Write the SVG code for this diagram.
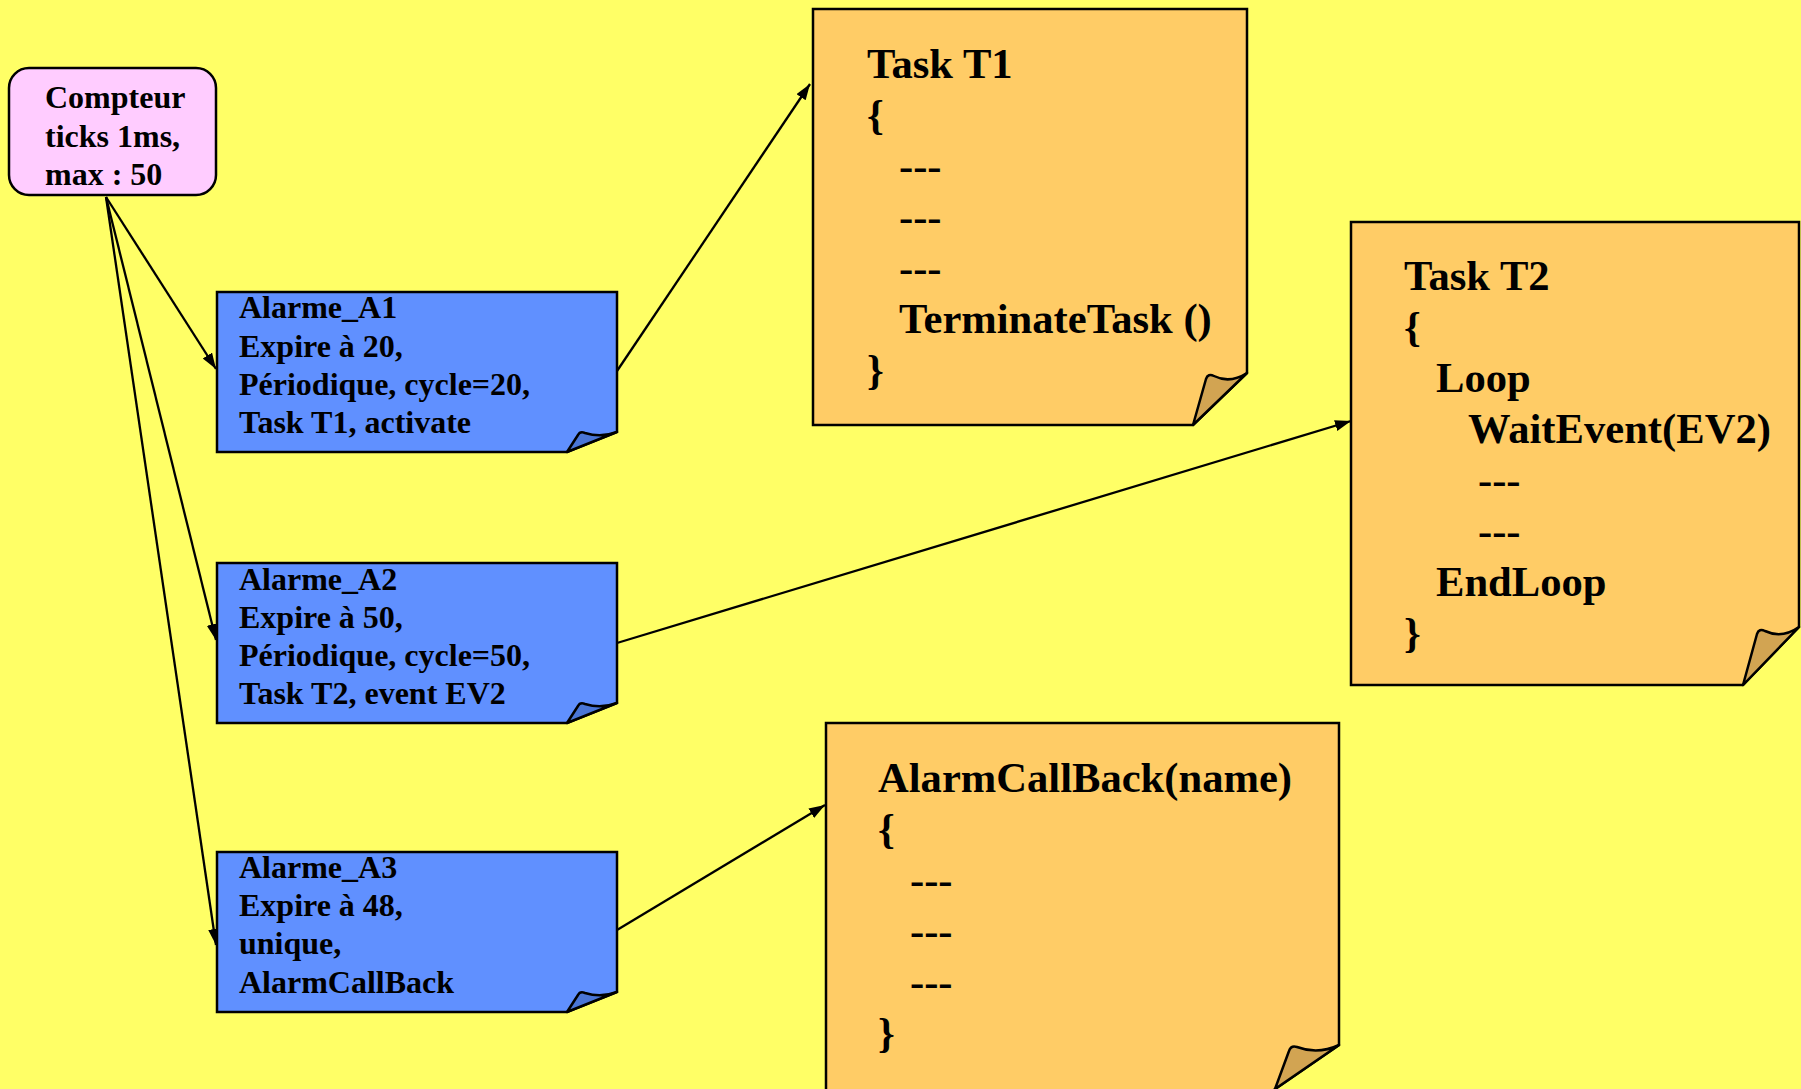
<svg xmlns="http://www.w3.org/2000/svg" width="1801" height="1089" viewBox="0 0 1801 1089">
  <defs>
    <marker id="arrow" markerWidth="17" markerHeight="12" refX="16" refY="5.5" orient="auto" markerUnits="userSpaceOnUse">
      <path d="M0,0 L16,5.5 L0,11 Z" fill="#000"/>
    </marker>
    <style>
      .txt { font-family: "Liberation Serif", "Times New Roman", serif; font-weight: bold; fill: #000; }
      .small { font-size: 32px; }
      .big { font-size: 42.6px; }
      .counter { fill: #FFCCFF; stroke: #000; stroke-width: 2.5; }
      .alarm { fill: #6090FF; stroke: #000; stroke-width: 2.5; stroke-linejoin: miter; }
      .alarm-fold { fill: #4A76D6; stroke: #000; stroke-width: 2.5; stroke-linejoin: round; }
      .note { fill: #FFCC66; stroke: #000; stroke-width: 2.5; stroke-linejoin: miter; }
      .note-fold { fill: #D2A452; stroke: #000; stroke-width: 2.5; stroke-linejoin: round; }
      .link { stroke: #000; stroke-width: 2.3; fill: none; marker-end: url(#arrow); }
    </style>
  </defs>

  <!-- background -->
  <rect x="0" y="0" width="1801" height="1089" fill="#FFFF66"/>

  <!-- connectors -->
  <g id="connectors">
    <line class="link" x1="106" y1="197" x2="216" y2="369"/>
    <line class="link" x1="106" y1="197" x2="216" y2="640"/>
    <line class="link" x1="106" y1="197" x2="216" y2="945"/>
    <line class="link" x1="617" y1="371" x2="810" y2="84"/>
    <line class="link" x1="617" y1="643" x2="1351" y2="421"/>
    <line class="link" x1="617" y1="930" x2="825" y2="805"/>
  </g>

  <!-- counter -->
  <g id="compteur">
    <rect class="counter" x="9" y="68" width="207" height="127" rx="20" ry="20"/>
    <text class="txt small" x="45" y="108">Compteur</text>
    <text class="txt small" x="45" y="147">ticks 1ms,</text>
    <text class="txt small" x="45" y="185">max : 50</text>
  </g>

  <!-- alarm A1 -->
  <g id="alarme_a1">
    <polygon class="alarm" points="217,292 617,292 617,432 567,452 217,452"/>
    <path class="alarm-fold" d="M567,452 L578,435 Q580,431 585,433 Q601,438 617,432 Z"/>
    <text class="txt small" x="239" y="318">Alarme_A1</text>
    <text class="txt small" x="239" y="357">Expire à 20,</text>
    <text class="txt small" x="239" y="395">Périodique, cycle=20,</text>
    <text class="txt small" x="239" y="433">Task T1, activate</text>
  </g>

  <!-- alarm A2 -->
  <g id="alarme_a2">
    <polygon class="alarm" points="217,563 617,563 617,703 567,723 217,723"/>
    <path class="alarm-fold" d="M567,723 L578,706 Q580,702 585,704 Q601,709 617,703 Z"/>
    <text class="txt small" x="239" y="590">Alarme_A2</text>
    <text class="txt small" x="239" y="628">Expire à 50,</text>
    <text class="txt small" x="239" y="666">Périodique, cycle=50,</text>
    <text class="txt small" x="239" y="704">Task T2, event EV2</text>
  </g>

  <!-- alarm A3 -->
  <g id="alarme_a3">
    <polygon class="alarm" points="217,852 617,852 617,992 567,1012 217,1012"/>
    <path class="alarm-fold" d="M567,1012 L578,995 Q580,991 585,993 Q601,998 617,992 Z"/>
    <text class="txt small" x="239" y="878">Alarme_A3</text>
    <text class="txt small" x="239" y="916">Expire à 48,</text>
    <text class="txt small" x="239" y="954">unique,</text>
    <text class="txt small" x="239" y="993">AlarmCallBack</text>
  </g>

  <!-- task T1 -->
  <g id="task_t1">
    <polygon class="note" points="813,9 1247,9 1247,373 1193,425 813,425"/>
    <path class="note-fold" d="M1193,425 L1206,379 Q1208,373 1214,376 Q1230,384 1247,373 Z"/>
    <text class="txt big" x="867" y="78">Task T1</text>
    <text class="txt big" x="867" y="129">{</text>
    <text class="txt big" x="899" y="180">---</text>
    <text class="txt big" x="899" y="231">---</text>
    <text class="txt big" x="899" y="282">---</text>
    <text class="txt big" x="899" y="333">TerminateTask ()</text>
    <text class="txt big" x="867" y="384">}</text>
  </g>

  <!-- task T2 -->
  <g id="task_t2">
    <polygon class="note" points="1351,222 1799,222 1799,627 1743,685 1351,685"/>
    <path class="note-fold" d="M1743,685 L1757,634 Q1759,628 1765,631 Q1782,639 1799,627 Z"/>
    <text class="txt big" x="1404" y="290">Task T2</text>
    <text class="txt big" x="1404" y="341">{</text>
    <text class="txt big" x="1436" y="392">Loop</text>
    <text class="txt big" x="1468" y="443">WaitEvent(EV2)</text>
    <text class="txt big" x="1478" y="494">---</text>
    <text class="txt big" x="1478" y="545">---</text>
    <text class="txt big" x="1436" y="596">EndLoop</text>
    <text class="txt big" x="1404" y="647">}</text>
  </g>

  <!-- alarm callback -->
  <g id="alarm_callback">
    <polygon class="note" points="826,723 1339,723 1339,1045 1268,1094 826,1094"/>
    <path class="note-fold" d="M1275,1089 L1289,1051 Q1291,1045 1297,1047 Q1318,1055 1339,1045 Z"/>
    <text class="txt big" x="878" y="792">AlarmCallBack(name)</text>
    <text class="txt big" x="878" y="843">{</text>
    <text class="txt big" x="910" y="894">---</text>
    <text class="txt big" x="910" y="945">---</text>
    <text class="txt big" x="910" y="996">---</text>
    <text class="txt big" x="878" y="1047">}</text>
  </g>
</svg>
